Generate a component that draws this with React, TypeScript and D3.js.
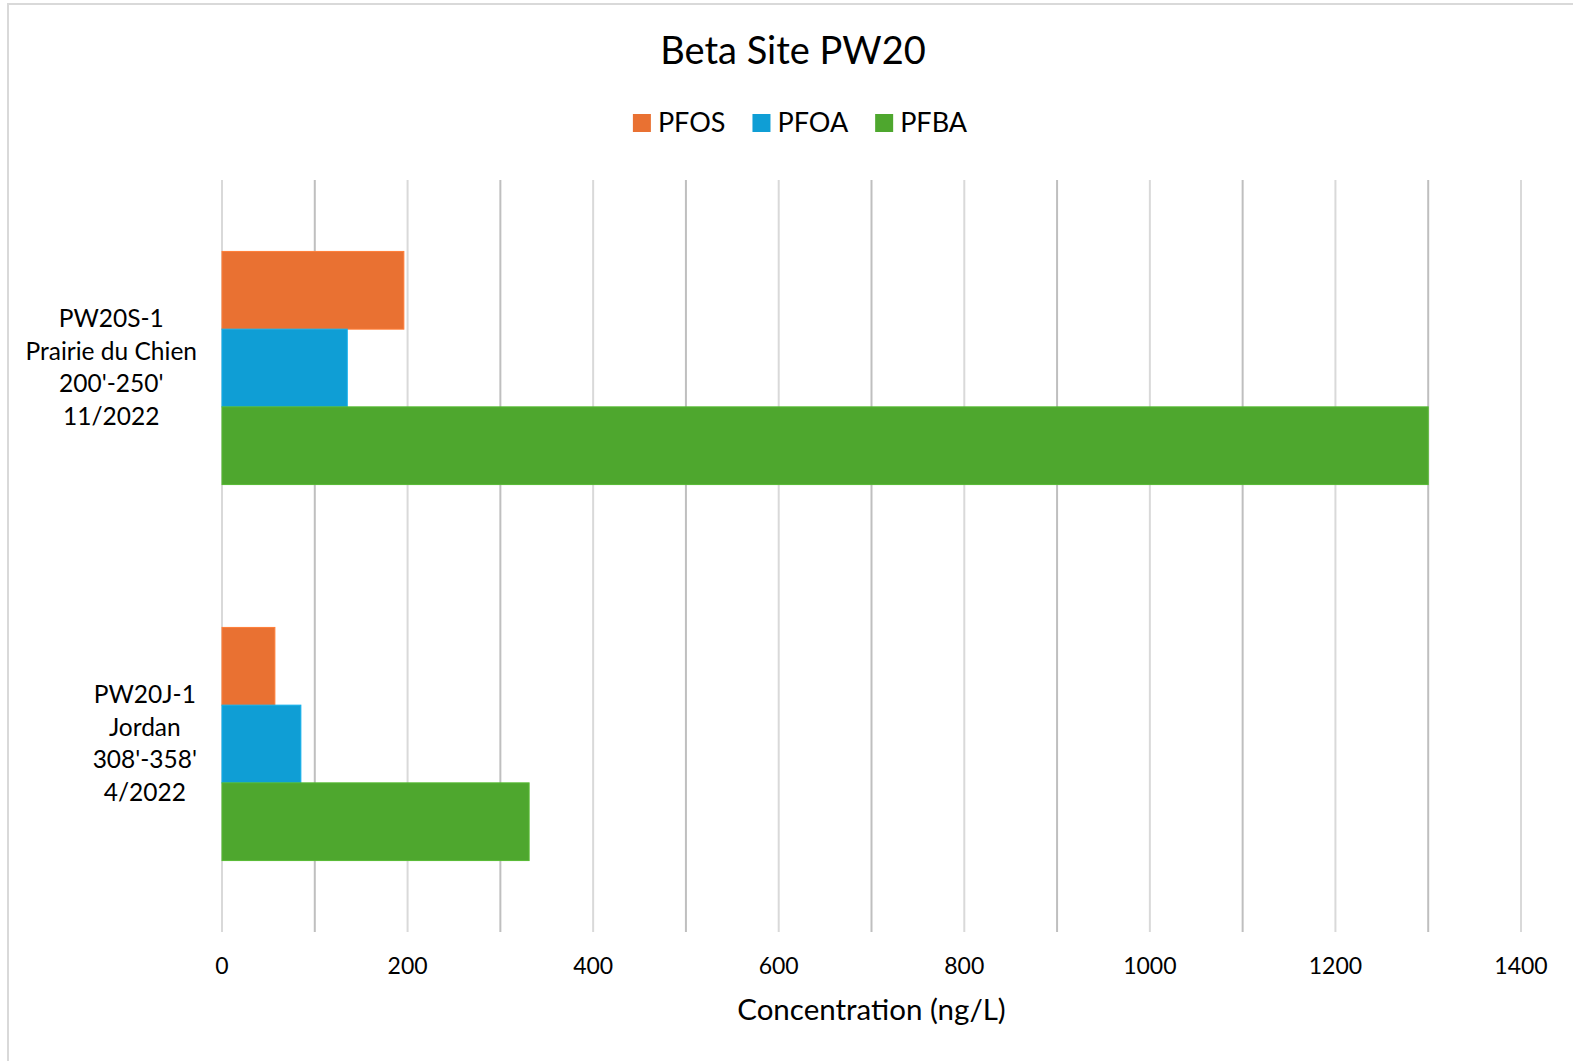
import React, { useEffect, useRef } from "react";
import * as d3 from "d3";

const categories = [
  ["PW20S-1", "Prairie du Chien", "200'-250'", "11/2022"],
  ["PW20J-1", "Jordan", "308'-358'", "4/2022"],
];
const seriesNames = ["PFOS", "PFOA", "PFBA"];
const seriesColors = ["#E97132", "#0F9ED5", "#4EA72E"];
const pfos = [196, 57];
const pfoa = [135, 85];
const pfba = [1300, 331];
const xTicks = [0, 200, 400, 600, 800, 1000, 1200, 1400];
const gridValues = [0, 100, 200, 300, 400, 500, 600, 700, 800, 900, 1000, 1100, 1200, 1300, 1400];

const W = 1573;
const H = 1061;
const FONT = "Lato, 'Open Sans', sans-serif";

export default function App() {
  const ref = useRef<SVGSVGElement>(null);

  useEffect(() => {
    const svg = d3.select(ref.current);
    svg.selectAll("*").remove();

    const left = 222, right = 1521, top = 180, bottom = 932;
    const x = d3.scaleLinear().domain([0, 1400]).range([left, right]);
    const catIdx = categories.map((_, i) => String(i));
    const y0 = d3.scaleBand().domain(catIdx).range([top, bottom]).paddingInner(0.38).paddingOuter(0.19);
    const y1 = d3.scaleBand().domain(seriesNames).range([0, y0.bandwidth()]);
    const values = [pfos, pfoa, pfba];

    svg.append("rect").attr("x", 8).attr("y", 4).attr("width", W + 20).attr("height", H + 20)
      .attr("fill", "#fff").attr("stroke", "#d9d9d9").attr("stroke-width", 2);

    // gridlines
    svg.append("g").selectAll("line").data(gridValues).join("line")
      .attr("x1", (d) => x(d)).attr("x2", (d) => x(d))
      .attr("y1", top).attr("y2", bottom)
      .attr("stroke", (d) => (d % 200 === 0 ? "#d9d9d9" : "#bfbfbf"))
      .attr("stroke-width", 2);

    // bars
    categories.forEach((_, ci) => {
      const g = svg.append("g").attr("transform", `translate(0,${y0(String(ci))})`);
      seriesNames.forEach((s, si) => {
        g.append("rect")
          .attr("x", x(0)).attr("y", y1(s)!)
          .attr("width", x(values[si][ci]) - x(0))
          .attr("height", y1.bandwidth())
          .attr("fill", seriesColors[si])
          .attr("stroke", d3.color(seriesColors[si])!.brighter(0.3).toString())
          .attr("stroke-width", 1);
      });
    });

    // category labels
    categories.forEach((lines, ci) => {
      const cy = y0(String(ci))! + y0.bandwidth() / 2;
      const lh = 32.5;
      const t = svg.append("text").attr("font-family", FONT).attr("font-size", 24.5).attr("fill", "#000")
        .attr("text-anchor", "middle");
      lines.forEach((ln, li) => {
        t.append("tspan").attr("x", 0).attr("y", cy + (li - (lines.length - 1) / 2) * lh + 8).text(ln);
      });
      const bb = (t.node() as SVGTextElement).getBBox();
      const cx = left - 25 - bb.width / 2;
      t.selectAll("tspan").attr("x", cx);
    });

    // x tick labels
    svg.append("g").selectAll("text").data(xTicks).join("text")
      .attr("x", (d) => x(d)).attr("y", 974)
      .attr("text-anchor", "middle").attr("font-family", FONT).attr("font-size", 23).attr("fill", "#000")
      .text((d) => String(d));

    // axis title
    svg.append("text").attr("x", (left + right) / 2).attr("y", 1020)
      .attr("text-anchor", "middle").attr("font-family", FONT).attr("font-size", 29.5).attr("fill", "#000")
      .text("Concentration (ng/L)");

    // chart title
    svg.append("text").attr("x", 793).attr("y", 64)
      .attr("text-anchor", "middle").attr("font-family", FONT).attr("font-size", 38).attr("fill", "#000")
      .text("Beta Site PW20");

    // legend
    const lg = svg.append("g");
    let cur = 0;
    seriesNames.forEach((s, i) => {
      const item = lg.append("g").attr("transform", `translate(${cur},0)`);
      item.append("rect").attr("x", 0).attr("y", 114).attr("width", 18).attr("height", 18).attr("fill", seriesColors[i]);
      const tx = item.append("text").attr("x", 25).attr("y", 132).attr("font-family", FONT).attr("font-size", 27)
        .attr("fill", "#000").text(s);
      const w = (tx.node() as SVGTextElement).getComputedTextLength();
      cur += 25 + w + 27;
    });
    const totalW = cur - 27;
    lg.attr("transform", `translate(${800 - totalW / 2},0)`);
  }, []);

  return (
    <svg ref={ref} width={W} height={H}
      style={{ position: "absolute", left: 0, top: 0, background: "#fff" }} />
  );
}
